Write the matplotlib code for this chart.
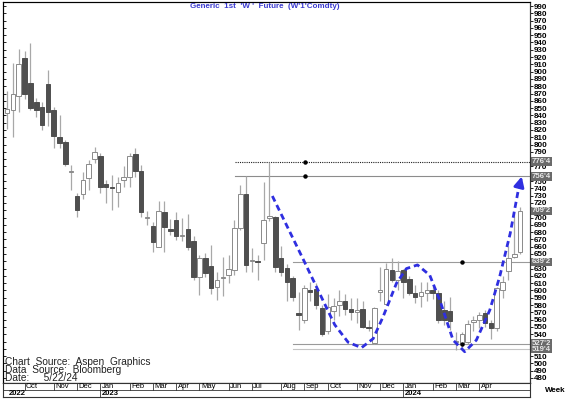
import numpy as np
import pandas as pd
import matplotlib
matplotlib.use('Agg')
import matplotlib.pyplot as plt

plt.rcParams['font.family'] = ['Liberation Sans', 'DejaVu Sans']

W, H = 573, 399

# weekly bars, first bar = week of 2022-09-12, last = week of 2024-05-20
dates = pd.date_range('2022-09-12', periods=89, freq='W-MON')

opens = [843, 847, 867, 919, 884, 858, 851, 883, 848, 811,
         803, 762, 729, 732, 754, 780, 784, 746, 741, 735,
         751, 756, 787, 764, 700, 688, 659, 707, 684, 696,
         674, 684, 668, 619, 645, 634, 605, 617, 621, 628,
         686, 732, 640, 640, 665, 700, 701, 645, 631, 617,
         569, 560, 600, 602, 576, 544, 572, 580, 586, 575,
         571, 574, 550, 528, 598, 582, 628, 615, 628, 616,
         596, 592, 597, 600, 596, 573, 572, 530, 528, 530,
         557, 560, 569, 555, 548, 600, 627, 646, 653]
highs = [873, 912, 931, 928, 939, 864, 859, 902, 852, 841,
         806, 772, 733, 763, 779, 797, 788, 752, 758, 756,
         770, 789, 796, 772, 709, 694, 722, 723, 698, 708,
         700, 705, 674, 649, 651, 662, 626, 646, 649, 697,
         745, 756.5, 658, 649, 749, 776.5, 702, 661, 636, 620,
         598, 608, 612, 610, 580, 595, 590, 600, 595, 590,
         590, 585, 560, 578, 632, 638, 645, 640, 630, 620,
         608, 612, 612, 606, 600, 586, 591, 543, 543, 560,
         565, 571, 573, 560, 605, 620, 661, 708, 715]
lows = [821, 810, 844, 863, 847, 838, 820, 825, 795, 795,
        770, 738, 701, 726, 738, 775, 734, 720, 711, 715,
        742, 742, 756, 701, 690, 653, 659, 653, 676, 669,
        668, 655, 614, 594, 619, 595, 587, 592, 610, 621,
        683, 625, 626, 614, 642, 695, 626, 620, 586, 586,
        546, 555, 585, 575, 538, 540, 560, 565, 566, 560,
        555, 548, 545, 527, 585, 580, 612, 600, 590, 594,
        583, 578, 585, 588, 556, 552, 546, 518, 520, 527,
        545, 548, 550, 534, 545, 590, 614, 644, 650]
closes = [849, 870, 911, 870, 850, 848, 827, 845, 812, 802,
          773, 763, 711, 752, 774, 790, 742, 742, 740, 748,
          755, 784, 764, 707, 701, 666, 709, 687, 682, 675,
          676, 660, 619, 645, 624, 604, 614, 619, 629, 686,
          732, 635, 642, 639, 697, 702, 632, 626, 612, 591,
          567, 603, 598, 580, 541, 578, 579, 585, 574, 571,
          573, 550, 548, 576, 600, 629, 615, 627, 612, 596,
          591.5, 598, 600, 596, 560, 560, 558, 531, 541, 554,
          559.5, 566, 555, 549, 604, 612, 645, 650, 709.25]

# horizontal study lines: level, first week, style
level_values = [776.5, 756.5, 639.25, 527.25, 519.5]
level_start = [39.1, 39.1, 49.0, 49.0, 49.0]
level_styles = ['dotted', 'solid', 'solid', 'solid', 'solid']
level_colors = ['#202020', '#8c8c8c', '#9a9a9a', '#9a9a9a', '#c4c4c4']
level_tags = ["776'4", "756'4", "639'2", "527'2", "519'4"]
anchor_weeks = [51.1, 51.1, 78.0, 78.0]
anchor_values = [776.5, 756.5, 639.25, 527.25]

# last close tag
last_value = 709.25
last_tag = "709'2"

# hand drawn "W" pattern (week, price)
w_weeks = [45.5, 50.9, 56.2, 58.5, 60.8, 62.8, 64.5, 66.8, 68.5, 70.4,
           72.5, 74.3, 76.5, 78.5, 80.5, 82.8, 84.5, 86.3, 87.7, 88.4]
w_prices = [729.5, 641, 553, 529, 521.5, 534, 564, 610, 630, 635,
            621, 585, 532, 516, 532, 573, 619, 678, 738, 760]

# ---- layout in pixels ----
fig = plt.figure(figsize=(W / 100, H / 100), dpi=100)
L, R, T, B = 3, 530, 2, 383
ax = fig.add_axes([L / W, (H - B) / H, (R - L) / W, (B - T) / H])
ax.set_xlim(-0.7, 89.7)
ylo = 990 - (B - 6) / 0.7294
yhi = 990 + (6 - T) / 0.7294
ax.set_ylim(ylo, yhi)

k = np.arange(len(opens))
o = np.array(opens, float)
c = np.array(closes, float)
up = c >= o

ax.vlines(k, lows, highs, color='#a8a8a8', lw=0.9, zorder=2)
bottom = np.minimum(o, c)
height = np.maximum(np.abs(c - o), 1.3)
ax.bar(k[up], height[up], bottom=bottom[up], width=0.78, facecolor='white',
       edgecolor='#8a8a8a', linewidth=0.7, zorder=3)
ax.bar(k[~up], height[~up], bottom=bottom[~up], width=0.78, facecolor='#4f4f4f',
       edgecolor='#4f4f4f', linewidth=0.7, zorder=3)

for lv, ls, st, col in zip(level_values, level_start, level_styles, level_colors):
    ax.plot([ls, 89.7], [lv, lv], color=col, lw=0.8,
            linestyle=(0, (1, 1)) if st == 'dotted' else '-', zorder=1)
ax.plot(anchor_weeks, anchor_values, 'o', color='black', ms=2.2, zorder=4)

ax.plot(w_weeks[:-1], w_prices[:-1], color='#2f2fe0', lw=2.0,
        linestyle=(0, (2.2, 1.4)), zorder=5)
ax.annotate('', xy=(w_weeks[-1], w_prices[-1]), xytext=(w_weeks[-2], w_prices[-2]),
            arrowprops=dict(arrowstyle='-|>,head_length=0.6,head_width=0.3',
                            color='#2f2fe0', lw=2.0), zorder=5)

# axes styling
for s in ax.spines.values():
    s.set_color('#333333')
    s.set_linewidth(0.8)
ax.set_xticks([])
yt = np.arange(480, 1000, 10)
ax.set_yticks(yt)
ax.tick_params(axis='y', direction='in', length=2, width=0.6, labelleft=False,
               left=True, right=False)

tag_vals = level_values + [last_value]
tag_txts = level_tags + [last_tag]

axr = ax.twinx()
axr.set_ylim(ylo, yhi)
axr.set_yticks(yt)
# labels hidden under a price tag are left blank, as in the reference
ylabels = ['' if min(abs(v - t) for t in tag_vals) < 5 else str(v) for v in yt]
axr.set_yticklabels(ylabels, fontsize=5.8, fontweight='bold')
axr.tick_params(axis='y', direction='out', length=2, width=0.6, pad=1)
axr.spines['right'].set_color('#333333')

for v, t in zip(tag_vals, tag_txts):
    axr.text(1.004, v, t, transform=axr.get_yaxis_transform(), fontsize=5.6,
             fontweight='bold', color='#e8e8e8', ha='left', va='center', zorder=10,
             bbox=dict(boxstyle='square,pad=0.1', facecolor='#6a6a6a', edgecolor='none'))

# ---- date strip ----
axb = fig.add_axes([L / W, (H - 397) / H, (R - L) / W, 14 / H])
axb.set_xlim(-0.7, 89.7)
axb.set_ylim(0, 2)
axb.set_xticks([])
axb.set_yticks([])
for s in axb.spines.values():
    s.set_color('#333333')
    s.set_linewidth(0.8)
axb.axhline(1, color='#333333', lw=0.6)

month_idx = [i for i in range(1, len(dates)) if dates[i].month != dates[i - 1].month]
for i in month_idx:
    if dates[i].month == 5 and dates[i].year == 2024:
        continue
    axb.plot([i, i], [1, 2], color='#333333', lw=0.6)
    axb.text(i + 0.25, 1.5, dates[i].strftime('%b'), fontsize=5.5, ha='left',
             va='center')
    if dates[i].month == 1:
        axb.plot([i, i], [0, 1], color='#333333', lw=0.6)
        axb.text(i + 0.25, 0.45, str(dates[i].year), fontsize=5.5, ha='left',
                 va='center', fontweight='bold')
axb.text(0.3, 0.45, str(dates[0].year), fontsize=5.5, ha='left', va='center',
         fontweight='bold')

fig.text(555 / W, 1 - 391 / H, 'Week', fontsize=5.8, fontweight='bold',
         ha='center', va='center')

# title and source notes
fig.text(265 / W, 1 - 6 / H, "Generic  1st  'W '  Future  (W'1'Comdty)",
         fontsize=5.8, fontweight='bold', color='#3a3ad0', ha='center', va='center')
notes = ['Chart  Source:  Aspen  Graphics', 'Data  Source:  Bloomberg',
         'Date:     5/22/24']
fig.text(5 / W, 1 - 370 / H, '\n'.join(notes), fontsize=7.3, ha='left',
         va='center', color='#222222', linespacing=0.72)

fig.savefig('out.png', dpi=100)
